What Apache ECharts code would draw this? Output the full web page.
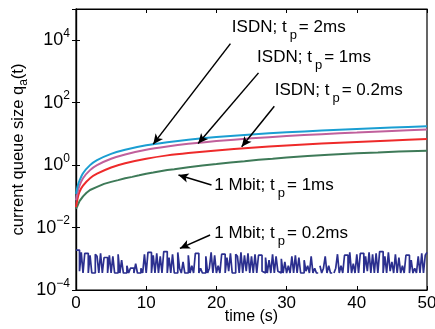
<!DOCTYPE html>
<html><head><meta charset="utf-8">
<script src="https://cdn.jsdelivr.net/npm/echarts@6/dist/echarts.min.js"></script>
<style>html,body{margin:0;padding:0;background:#fff}#c{width:435px;height:329px}</style>
</head><body><div id="c"></div>
<script>
// time samples (s) for the smooth ISDN curves
const tCurve = [0, 0.25, 0.5, 1, 2, 3, 5, 7, 10, 13, 16, 20, 25, 30, 35, 40, 45, 50];
const isdn2ms  = [0.12, 0.22, 0.32, 0.55, 1.0, 1.45, 2.3, 3.1, 4.3, 5.4, 6.5, 7.9, 9.6, 11.2, 12.8, 14.4, 16.0, 17.5];
const isdn1ms  = [0.075, 0.14, 0.22, 0.38, 0.69, 1.0, 1.6, 2.2, 3.1, 3.95, 4.8, 5.9, 7.2, 8.5, 9.8, 11.0, 12.4, 13.8];
const isdn02ms = [0.045, 0.09, 0.14, 0.22, 0.38, 0.53, 0.84, 1.15, 1.6, 2.05, 2.45, 2.95, 3.6, 4.25, 4.9, 5.5, 6.15, 6.8];
// 1 Mbit; tp = 1ms (slightly noisy)
const tGreen  = [0, 0.25, 0.5, 1, 1.5, 2, 3, 4, 5, 6, 7, 8, 9, 10, 11, 12, 13, 14, 15, 16, 18, 20, 22, 24, 26, 28, 30, 33, 36, 40, 43, 46, 50];
const mbit1ms = [0.04, 0.052, 0.07, 0.1, 0.13, 0.16, 0.2, 0.25, 0.29, 0.33, 0.38, 0.42, 0.47, 0.53, 0.58, 0.64, 0.70, 0.74, 0.80, 0.86, 0.97, 1.08, 1.22, 1.34, 1.48, 1.6, 1.75, 1.95, 2.15, 2.4, 2.55, 2.72, 2.9];
// 1 Mbit; tp = 0.2ms, sampled every 0.25 s, values in units of 1e-4
const noiseStep = 0.25;
const noiseE4 = [
 19,19,4,16,3.5,15,15,3.5,13,3.5,3.5,14,12,3.5,15,3.5,11,11,3.5,13,
 3.5,12,3.5,3.5,14,3.5,9,3.5,3.5,6,3.5,5,5,3.5,7,3.5,3.5,5,3.5,14,
 3.5,16,16,3.5,13,3.5,15,3.5,12,3.5,17,17,3.5,11,3.5,14,3.5,3.5,16,5,
 3.5,8,3.5,3.5,13,3.5,6,3.5,15,15,3.5,5,3.5,3.5,12,3.5,5,16,3.5,13,
 3.5,6,3.5,14,14,3.5,11,4,15,3.5,3.5,14,12,3.5,16,3.5,13,4,15,3.5,
 12,3.5,14,3.5,13,13,4,3.5,11,3.5,9,3.5,14,3.5,12,4,3.5,10,3.5,8,
 3.5,6,3.5,12,3.5,13,3.5,11,3.5,3.5,9,4,6,3.5,12,3.5,5,3.5,null,6,
 3.5,5,12,3.5,6,3.5,null,3.5,5,14,3.5,6,3.5,13,13,3.5,16,3.5,7,3.5,
 14,3.5,15,15,3.5,12,4,16,3.5,14,3.5,15,3.5,17,17,3.5,12,3.5,16,4,
 8,3.5,14,3.5,11,3.5,6,3.5,13,13,3.5,9,3.5,5,3.5,12,3.5,15,3.5,13,
 16];
const xTicks = [0, 10, 20, 30, 40, 50];
const yTickExps = [-4, -2, 0, 2, 4];

const pair = (ts, vs) => ts.map((t, i) => [t, vs[i]]);
const noiseData = noiseE4.map((v, i) => [i * noiseStep, v == null ? null : v * 1e-4]);

const FONT = 'Liberation Sans, Arial, Helvetica, sans-serif';
const rich = {
  a: {fontSize: 17, fontFamily: FONT, color: '#000', lineHeight: 20},
  s: {fontSize: 13, fontFamily: FONT, color: '#000', padding: [17, 2, 0, 3], lineHeight: 20}
};
function lab(pre, post) { return '{a|' + pre + '}{s|p}{a|' + post + '}'; }

const annText = [
  {coord: [22.2, 26000], t: lab('ISDN; t', '= 2ms')},
  {coord: [25.8, 2880], t: lab('ISDN; t', '= 1ms')},
  {coord: [28.3, 250], t: lab('ISDN; t', '= 0.2ms')},
  {coord: [19.7, 0.23], t: lab('1 Mbit; t', '= 1ms')},
  {coord: [19.7, 0.0066], t: lab('1 Mbit; t', '= 0.2ms')}
];
const annArrows = [
  [[22.0, 7800], [11.0, 4.7]],
  [[26.0, 900], [17.4, 4.9]],
  [[28.25, 77], [23.6, 3.9]],
  [[19.3, 0.23], [14.6, 0.48]],
  [[19.1, 0.0058], [14.8, 0.00215]]
];

const chart = echarts.init(document.getElementById('c'));
const axisLine = {show: true, lineStyle: {color: '#000', width: 1.2}};
const tick = {inside: true, length: 4, lineStyle: {color: '#000'}};
chart.setOption({
  animation: false,
  grid: {left: 76, right: 8, top: 9, bottom: 39, show: true, borderColor: '#000', borderWidth: 1.2,
    containLabel: false, outerBoundsMode: 'none'},
  xAxis: [{
    type: 'value', min: 0, max: 50, interval: 10,
    name: 'time (s)', nameLocation: 'middle', nameGap: 19, nameMoveOverlap: false,
    nameTextStyle: {fontSize: 16, fontFamily: FONT, color: '#000'},
    axisLine, axisTick: tick,
    axisLabel: {fontSize: 17, fontFamily: FONT, color: '#000', margin: 5,
      formatter: v => xTicks.includes(v) ? String(v) : ''},
    splitLine: {show: false}
  }, {
    type: 'value', min: 0, max: 50, interval: 10, position: 'top',
    axisLine, axisTick: tick, axisLabel: {show: false}, splitLine: {show: false}
  }],
  yAxis: [{
    type: 'log', logBase: 10, min: 1e-4, max: 1e5, interval: 2,
    name: '{a|current queue size q}{b|a}{a|(t)}', nameLocation: 'middle', nameGap: 46, nameMoveOverlap: false,
    nameTextStyle: {rich: {
      a: {fontSize: 16.5, fontFamily: FONT, color: '#000'},
      b: {fontSize: 12, fontFamily: FONT, color: '#000', padding: [11, 0, 0, 0]}
    }},
    axisLine, axisTick: tick,
    axisLabel: {color: '#000', margin: 6, showMaxLabel: false,
      formatter: v => {
        const e = Math.round(Math.log10(v));
        if (!yTickExps.includes(e)) return '';
        return '{b|10}{s|' + (e < 0 ? '\u2212' + (-e) : e) + '}';
      },
      rich: {
        b: {fontSize: 18, fontFamily: FONT, color: '#000'},
        s: {fontSize: 12, fontFamily: FONT, color: '#000', padding: [0, 0, 13, 0]}
      }},
    splitLine: {show: false}
  }, {
    type: 'log', logBase: 10, min: 1e-4, max: 1e5, interval: 2, position: 'right',
    axisLine, axisTick: tick, axisLabel: {show: false}, splitLine: {show: false}
  }],
  series: [
    {type: 'line', data: pair(tGreen, mbit1ms), showSymbol: false,
      lineStyle: {color: '#3e7a58', width: 2}},
    {type: 'line', data: pair(tCurve, isdn02ms), showSymbol: false, smooth: 0.25,
      lineStyle: {color: '#ee2a2a', width: 2}},
    {type: 'line', data: pair(tCurve, isdn1ms), showSymbol: false, smooth: 0.25,
      lineStyle: {color: '#c0609c', width: 2}},
    {type: 'line', data: pair(tCurve, isdn2ms), showSymbol: false, smooth: 0.25,
      lineStyle: {color: '#1a9ed2', width: 2}},
    {type: 'line', data: noiseData, showSymbol: false, connectNulls: false, step: 'end',
      lineStyle: {color: '#2b2f8f', width: 1.7}},
    {type: 'line', data: [], silent: true,
      markLine: {silent: true, symbol: ['none', 'arrow'], symbolSize: [7, 10],
        label: {show: false}, lineStyle: {color: '#000', width: 1.5, type: 'solid'},
        data: annArrows.map(a => [{coord: a[0]}, {coord: a[1]}])},
      markPoint: {silent: true, symbol: 'circle', symbolSize: 0,
        label: {show: true, position: 'right', distance: 0, formatter: p => p.data.t, rich},
        data: annText.map(d => ({coord: d.coord, t: d.t}))}
    }
  ]
});
</script></body></html>
